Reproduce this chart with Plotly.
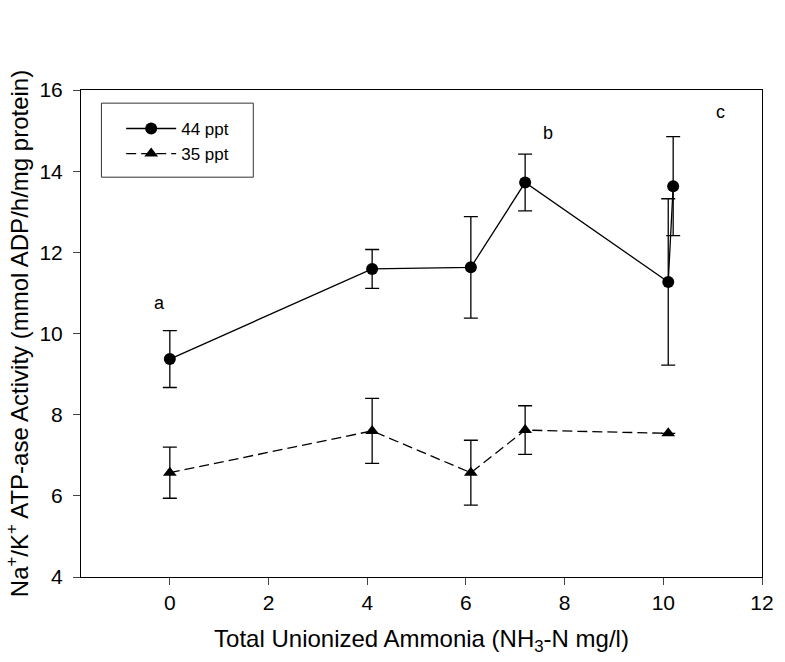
import plotly.graph_objects as go

# Data
x44 = [0, 4.1, 6.1, 7.2, 10.1, 10.2]
y44 = [9.37, 11.59, 11.63, 13.72, 11.27, 13.63]
e44 = [0.70, 0.48, 1.25, 0.70, 2.05, 1.22]

x35 = [0, 4.1, 6.1, 7.2, 10.1]
y35 = [6.57, 7.60, 6.57, 7.62, 7.54]
e35 = [0.63, 0.80, 0.80, 0.60, 0.0]

letters = ["a", "b", "c"]
letter_x = [-0.21, 7.66, 11.15]
letter_y = [10.74, 14.94, 15.47]

xticks = [0, 2, 4, 6, 8, 10, 12]
yticks = [4, 6, 8, 10, 12, 14, 16]

FONT = "Liberation Sans, Arial, Helvetica, sans-serif"

fig = go.Figure()
fig.add_trace(go.Scatter(
    x=x44, y=y44, mode="lines+markers", name="44 ppt",
    line=dict(color="black", width=1.3),
    marker=dict(symbol="circle", size=12, color="black"),
    error_y=dict(type="data", array=e44, visible=True, color="black", thickness=1.3, width=7),
))
fig.add_trace(go.Scatter(
    x=x35, y=y35, mode="lines+markers", name="35 ppt",
    line=dict(color="black", width=1.3, dash="10px,5px"),
    marker=dict(symbol="triangle-up", size=12, color="black"),
    error_y=dict(type="data", array=e35, visible=True, color="black", thickness=1.3, width=7),
))

for t, xx, yy in zip(letters, letter_x, letter_y):
    fig.add_annotation(x=xx, y=yy, text=t, showarrow=False,
                       font=dict(size=18, color="black", family=FONT))

# legend frame (paper coordinates)
fig.add_shape(type="rect", xref="paper", yref="paper",
              x0=0.030, x1=0.253, y0=0.821, y1=0.973,
              line=dict(color="#333333", width=1), fillcolor="rgba(0,0,0,0)")

fig.update_layout(
    width=785, height=662,
    margin=dict(l=81, r=11, t=90, b=85),
    paper_bgcolor="white", plot_bgcolor="white",
    font=dict(family=FONT, size=18, color="black"),
    showlegend=True,
    legend=dict(
        x=0.059, y=0.957, xanchor="left", yanchor="top",
        borderwidth=0, bgcolor="rgba(0,0,0,0)",
        font=dict(size=17, family=FONT), itemwidth=50,
        tracegroupgap=0,
    ),
)
fig.update_xaxes(
    range=[-1.8, 12], tickvals=xticks, ticks="outside", ticklen=7, tickwidth=1,
    showline=True, linecolor="black", linewidth=1, mirror=True, showgrid=False,
    zeroline=False, tickfont=dict(size=21), ticklabeloverflow="allow",
    title=dict(text="Total Unionized Ammonia (NH<sub>3</sub>-N mg/l)", font=dict(size=24), standoff=16),
)
fig.update_yaxes(
    range=[4, 16], tickvals=yticks, ticks="outside", ticklen=7, tickwidth=1,
    showline=True, linecolor="black", linewidth=1, mirror=True, showgrid=False,
    zeroline=False, tickfont=dict(size=21), ticklabelstandoff=6,
    title=dict(text="Na<sup>+</sup>/K<sup>+</sup> ATP-ase Activity (mmol ADP/h/mg protein)", font=dict(size=24), standoff=4),
)

fig.write_html("out.html")
